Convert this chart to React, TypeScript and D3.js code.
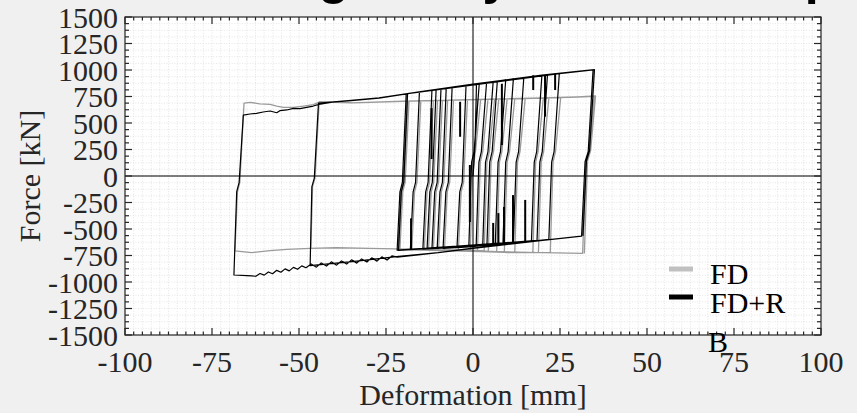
import React from 'react';
import * as d3 from 'd3';

// Hysteresis loops: [deformation mm, force kN]
const fdPath: [number, number][] = [
  [0, 0], [0.8, 300], [1.3, 720],
  [2.2, 722], [0.7, 230], [0, 130], [-0.8, -700],
  [-4.2, -699], [-3.4, -150], [-2.7, -60], [-1.6, 718],
  [4.3, 723], [2.8, 230], [2.1, 130], [1.3, -703],
  [-8.2, -698], [-7.4, -150], [-6.7, -60], [-5.6, 716],
  [6.2, 725], [4.7, 230], [4.0, 130], [3.2, -708],
  [-9.9, -698], [-9.1, -150], [-8.4, -60], [-7.3, 715],
  [7.4, 726], [5.9, 230], [5.2, 130], [4.4, -711],
  [-11.4, -697], [-10.6, -150], [-9.9, -60], [-8.8, 714],
  [9.8, 727], [8.3, 230], [7.6, 130], [6.8, -716],
  [-12.8, -697], [-12.0, -150], [-11.3, -60], [-10.2, 712],
  [12.0, 729], [10.5, 230], [9.8, 130], [9.0, -720],
  [-14.0, -697], [-13.2, -150], [-12.5, -60], [-11.4, 711],
  [15.0, 731], [13.5, 230], [12.8, 130], [12.0, -721],
  [-17.6, -696], [-16.8, -150], [-16.1, -60], [-15.0, 709],
  [20.2, 735], [18.7, 230], [18.0, 130], [17.2, -722],
  [-21.4, -695], [-20.6, -150], [-19.9, -60], [-18.8, 706],
  [21.8, 736], [20.3, 230], [19.6, 130], [18.8, -722],
  [-21.0, -695], [-20.2, -150], [-19.5, -60], [-18.4, 706],
  [25.2, 740], [23.7, 230], [23.0, 130], [22.2, -723],
  [10, -720], [0, -700], [-15, -692], [-30, -682], [-40, -678],
  [-46.6, -682], [-46.1, -100], [-45.4, -20], [-44.2, 700],
  [-35, 690], [-20, 705], [0, 720], [20, 735], [30, 745],
  [34.8, 752], [33.4, 229], [32.5, 135], [31.5, -730],
  [20, -722], [10, -722], [0, -700], [-15, -692], [-29.6, -682], [-39.2, -676],
  [-46.8, -682], [-53.5, -692], [-58.3, -704], [-63.6, -723], [-68.4, -706],
  [-67.7, -150], [-67.0, -60], [-65.8, 688],
  [-64, 695], [-61.3, 681], [-58.3, 675], [-56.4, 660], [-54.5, 648], [-51.6, 648],
  [-48.7, 660], [-45.9, 673], [-44, 700], [-39.2, 700], [-34.4, 690], [-20, 705],
  [0, 720], [20, 737], [30, 747],
  [35.2, 755], [33.8, 240], [32.9, 140], [32.0, -732],
];

const fdrPath: [number, number][] = [
  [0, 0], [0.6, 300], [1.0, 869],
  [1.8, 873], [0.3, 230], [-0.4, 130], [-1.2, -670],
  [-4.6, -675], [-3.8, -150], [-3.1, -60], [-2.0, 853],
  [3.9, 882], [2.4, 230], [1.7, 130], [0.9, -664],
  [-8.6, -682], [-7.8, -150], [-7.1, -60], [-6.0, 836],
  [5.8, 890], [4.3, 230], [3.6, 130], [2.8, -658],
  [-10.3, -684], [-9.5, -150], [-8.8, -60], [-7.7, 829],
  [7.0, 896], [5.5, 230], [4.8, 130], [4.0, -654],
  [-11.8, -686], [-11.0, -150], [-10.3, -60], [-9.2, 822],
  [9.4, 907], [7.9, 230], [7.2, 130], [6.4, -647],
  [-13.2, -688], [-12.4, -150], [-11.7, -60], [-10.6, 815],
  [11.6, 916], [10.1, 230], [9.4, 130], [8.6, -640],
  [-14.4, -690], [-13.6, -150], [-12.9, -60], [-11.8, 809],
  [14.6, 929], [13.1, 230], [12.4, 130], [11.6, -631],
  [-18.0, -695], [-17.2, -150], [-16.5, -60], [-15.4, 793],
  [19.8, 950], [18.3, 230], [17.6, 130], [16.8, -614],
  [-21.8, -700], [-21.0, -150], [-20.3, -60], [-19.2, 776],
  [21.4, 955], [19.9, 230], [19.2, 130], [18.4, -608],
  [-21.4, -702], [-20.6, -150], [-19.9, -60], [-18.8, 778],
  [24.8, 966], [23.3, 230], [22.6, 130], [21.8, -597],
  [10, -640], [0, -680], [-10, -722], [-22, -760], [-34, -805], [-46.8, -845],
  [-46.3, -100], [-45.6, -20], [-44.4, 688],
  [-35, 712], [-27, 735], [-15, 795], [0, 865], [19.8, 950], [24.8, 966], [30, 985],
  [34.5, 1000], [33.1, 229], [32.2, 135], [31.2, -568],
  [20, -608], [10, -645], [0, -682], [-10, -724], [-21.8, -766],
  [-23.3, -754], [-24.7, -793], [-26.2, -763], [-27.6, -803], [-29.1, -772],
  [-30.5, -812], [-32.0, -782], [-33.4, -822], [-34.9, -791], [-36.3, -831],
  [-37.8, -801], [-39.2, -841], [-40.7, -810], [-42.1, -850], [-43.6, -820],
  [-45.0, -860], [-46.5, -831], [-48.0, -865], [-49.2, -848], [-50.4, -880],
  [-51.6, -862], [-52.8, -895], [-54.0, -876], [-55.2, -908], [-56.4, -890],
  [-57.6, -922], [-58.8, -905], [-60.0, -935], [-61.2, -920], [-62.4, -946],
  [-63.6, -943], [-65, -940], [-68.7, -934],
  [-67.9, -148], [-67.2, -60], [-66.0, 575],
  [-64.1, 585], [-62.2, 591], [-60.3, 604], [-58.3, 613], [-56.4, 597], [-55.5, 616],
  [-53.5, 623], [-51.6, 638], [-49.7, 635], [-47.8, 648], [-45.9, 660], [-44.3, 676],
  [-40, 700], [-35, 714], [-27, 737], [-15, 797], [0, 867], [19.8, 952], [30, 987],
  [34.9, 1003], [33.5, 240], [32.6, 140], [31.6, -565],
];

// short force spikes on the FD+R record: [deformation, force from, force to]
const fdrSpikes: [number, number, number][] = [
  [-17.8, -690, -400], [-11.9, 640, 160], [-3.7, 700, 370], [-0.9, 104, -434],
  [8.3, 870, 292], [17.3, 950, 811], [20.7, 950, 560], [23.6, 965, 811],
  [5.8, -640, -443], [7.3, -640, -350], [8.9, -640, -292], [11.5, -630, -180],
  [15.0, -615, -226],
];

const xTicks = [-100, -75, -50, -25, 0, 25, 50, 75, 100];
const yTicks = [1500, 1250, 1000, 750, 500, 250, 0, -250, -500, -750, -1000, -1250, -1500];
const legendItems = [
  { label: 'FD', color: '#c0c0c0' },
  { label: 'FD+R', color: '#000000' },
];

const W = 857;
const H = 413;
const L = 125, R = 821, T = 17, B = 335;
const serif = "'Liberation Serif', 'Times New Roman', serif";

export default function App() {
  const x = d3.scaleLinear().domain([-100, 100]).range([L, R]);
  const y = d3.scaleLinear().domain([-1500, 1500]).range([B, T]);
  const line = d3.line<[number, number]>().x(d => x(d[0])).y(d => y(d[1]));

  const xMinor = d3.range(-100, 100.01, 2.5);
  const yMinor = d3.range(-1500, 1500.01, 62.5);
  const isMajorX = (v: number) => Math.abs(v % 25) < 1e-6;
  const isMajorY = (v: number) => Math.abs(v % 250) < 1e-6;

  return (
    <svg width={W} height={H} style={{ position: 'fixed', left: 0, top: 0 }}>
      <rect x={0} y={0} width={W} height={H} fill="#f0f0f0" />
      <text x={175} y={-6.5} fontFamily="'Liberation Sans', Arial, sans-serif" fontWeight="bold" fontSize={50} fill="#000">
        Testing the hysteretic damper
      </text>
      <rect x={L} y={T} width={R - L} height={B - T} fill="#ffffff" />
      <defs>
        <clipPath id="plot">
          <rect x={L} y={T} width={R - L} height={B - T} />
        </clipPath>
      </defs>
      <g stroke="#dedede" strokeWidth={0.8} strokeDasharray="1 1.6">
        {xMinor.map(v => <line key={'gx' + v} x1={x(v)} x2={x(v)} y1={T} y2={B} />)}
        {yMinor.map(v => <line key={'gy' + v} x1={L} x2={R} y1={y(v)} y2={y(v)} />)}
      </g>
      <g clipPath="url(#plot)" fill="none" strokeLinejoin="round">
        <path d={line(fdPath) || ''} stroke="#9a9a9a" strokeWidth={1.3} />
        <path d={line(fdrPath) || ''} stroke="#000" strokeWidth={1.2} />
        {fdrSpikes.map((s, i) => (
          <line key={i} x1={x(s[0])} x2={x(s[0])} y1={y(s[1])} y2={y(s[2])} stroke="#000" strokeWidth={2} />
        ))}
      </g>
      <line x1={x(0)} x2={x(0)} y1={T} y2={B} stroke="#000" strokeWidth={1} />
      <line x1={L} x2={R} y1={y(0)} y2={y(0)} stroke="#000" strokeWidth={1} />
      <g stroke="#262626" strokeWidth={1.2}>
        {xMinor.map(v => {
          const len = isMajorX(v) ? 7 : 3.5;
          return (
            <g key={'tx' + v}>
              <line x1={x(v)} x2={x(v)} y1={B} y2={B - len} />
              <line x1={x(v)} x2={x(v)} y1={T} y2={T + len} />
            </g>
          );
        })}
        {yMinor.map(v => {
          const len = isMajorY(v) ? 7 : 4;
          return (
            <g key={'ty' + v}>
              <line x1={L} x2={L + len} y1={y(v)} y2={y(v)} />
              <line x1={R} x2={R - len} y1={y(v)} y2={y(v)} />
            </g>
          );
        })}
        <rect x={L} y={T} width={R - L} height={B - T} fill="none" />
      </g>
      <g fontFamily={serif} fontSize={30} fill="#262626">
        {yTicks.map(v => (
          <text key={'ly' + v} x={118} y={y(v) + 10.5} textAnchor="end">{v}</text>
        ))}
        {xTicks.map(v => (
          <text key={'lx' + v} x={x(v)} y={372} textAnchor="middle">{v}</text>
        ))}
        <text x={x(0)} y={405} textAnchor="middle">Deformation [mm]</text>
        <text transform={`translate(40,${y(0)}) rotate(-90)`} textAnchor="middle">Force [kN]</text>
      </g>
      <g fontFamily={serif} fontSize={30} fill="#000">
        {legendItems.map((d, i) => (
          <g key={d.label}>
            <line x1={669} x2={693} y1={269 + i * 28} y2={269 + i * 28} stroke={d.color} strokeWidth={5} />
            <text x={710} y={283.5 + i * 29}>{d.label}</text>
          </g>
        ))}
        <text x={708} y={352}>B</text>
      </g>
    </svg>
  );
}
